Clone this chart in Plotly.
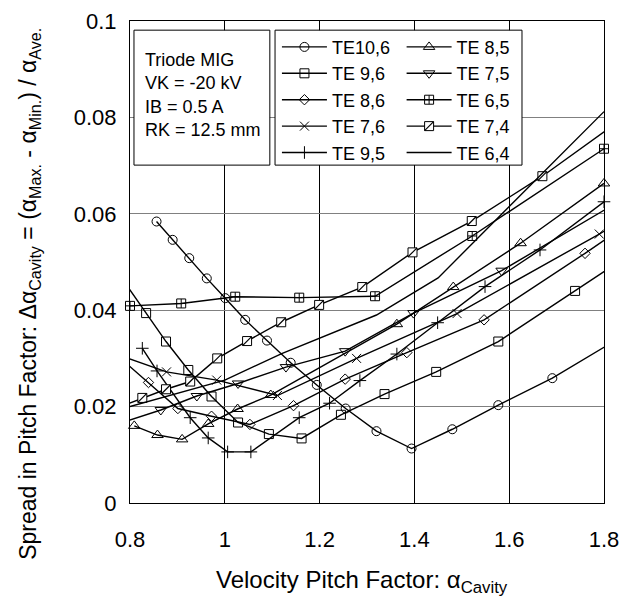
import plotly.graph_objects as go

FONT = "Liberation Sans, Arial, sans-serif"

# ---- data ----
te106_x = [0.856, 0.890, 0.925, 0.962, 1.001, 1.043, 1.089, 1.139, 1.194, 1.255, 1.320, 1.394, 1.480, 1.577, 1.691, 1.82]
te106_y = [0.0584, 0.0546, 0.0508, 0.0466, 0.0425, 0.0380, 0.0337, 0.0291, 0.0245, 0.0196, 0.0149, 0.0113, 0.0153, 0.0203, 0.0259, 0.0335]

te96_x = [0.78, 0.834, 0.876, 0.923, 0.972, 1.028, 1.093, 1.162, 1.245, 1.337, 1.446, 1.577, 1.739, 1.82]
te96_y = [0.0470, 0.0394, 0.0335, 0.0276, 0.0221, 0.0167, 0.0143, 0.0134, 0.0183, 0.0226, 0.0272, 0.0335, 0.0440, 0.0493]

te86_x = [0.78, 0.839, 0.901, 0.972, 1.053, 1.145, 1.254, 1.384, 1.547, 1.760, 1.82]
te86_y = [0.0300, 0.0250, 0.0196, 0.0180, 0.0163, 0.0202, 0.0257, 0.0312, 0.0380, 0.0518, 0.0558]

te76_x = [0.78, 0.877, 0.983, 1.111, 1.278, 1.490, 1.790, 1.82]
te76_y = [0.0306, 0.0272, 0.0255, 0.0223, 0.0300, 0.0393, 0.0558, 0.0575]

te95_x = [0.826, 0.857, 0.927, 0.965, 1.006, 1.055, 1.157, 1.221, 1.285, 1.363, 1.449, 1.549, 1.665, 1.800]
te95_y = [0.0321, 0.0274, 0.0177, 0.0135, 0.0106, 0.0106, 0.0177, 0.0207, 0.0254, 0.0309, 0.0374, 0.0449, 0.0525, 0.0625]

te85_x = [0.809, 0.858, 0.910, 0.965, 1.027, 1.097, 1.363, 1.482, 1.624, 1.800]
te85_y = [0.0160, 0.0141, 0.0132, 0.0164, 0.0195, 0.0224, 0.0371, 0.0448, 0.0539, 0.0663]

te75_x = [0.78, 0.865, 0.941, 1.028, 1.129, 1.254, 1.398, 1.584, 1.82]
te75_y = [0.0166, 0.0193, 0.0222, 0.0248, 0.0282, 0.0315, 0.0394, 0.0482, 0.0619]

te65_x = [0.800, 0.908, 1.022, 1.157, 1.317, 1.522, 1.800]
te65_y = [0.0409, 0.0414, 0.0428, 0.0426, 0.0429, 0.0554, 0.0735]

te74_x = [0.78, 0.826, 0.876, 0.927, 0.984, 1.047, 1.119, 1.199, 1.290, 1.396, 1.521, 1.670, 1.82]
te74_y = [0.0200, 0.0218, 0.0236, 0.0252, 0.0300, 0.0336, 0.0375, 0.0411, 0.0448, 0.0520, 0.0585, 0.0678, 0.0784]

te64_x = [0.8, 1.0, 1.12, 1.32, 1.45, 1.8]
te64_y = [0.0200, 0.0255, 0.0310, 0.0390, 0.0467, 0.0812]

x_ticks = [0.8, 1.0, 1.2, 1.4, 1.6, 1.8]
x_labels = ["0.8", "1", "1.2", "1.4", "1.6", "1.8"]
y_ticks = [0, 0.02, 0.04, 0.06, 0.08, 0.1]
y_labels = ["0", "0.02", "0.04", "0.06", "0.08", "0.1"]

info_lines = ["Triode MIG", "VK = -20 kV", "IB = 0.5 A", "RK = 12.5 mm"]
x_title = "Velocity Pitch Factor: α<sub>Cavity</sub>"
y_title = ("Spread in Pitch Factor: Δα<sub>Cavity</sub> = (α<sub>Max.</sub> - "
           "α<sub>Min.</sub>) / α<sub>Ave.</sub>")

# ---- figure ----
fig = go.Figure()


def add(name, xs, ys, symbol, legend, size=9, clip=True, fill="black"):
    fig.add_trace(go.Scatter(
        x=xs, y=ys, name=name, legend=legend,
        mode="lines+markers" if symbol else "lines",
        line=dict(color="black", width=1.4),
        marker=dict(symbol=symbol or "circle", size=size, color=fill,
                    line=dict(color="black", width=1)),
        cliponaxis=clip,
    ))


add("TE10,6", te106_x, te106_y, "circle-open", "legend")
add("TE 9,6", te96_x, te96_y, "square-open", "legend")
add("TE 8,6", te86_x, te86_y, "diamond-open", "legend", size=8)
add("TE 7,6", te76_x, te76_y, "x-thin-open", "legend", size=9)
add("TE 9,5", te95_x, te95_y, "cross-thin-open", "legend", size=9, clip=False)
add("TE 8,5", te85_x, te85_y, "triangle-up-open", "legend2", size=10, clip=False)
add("TE 7,5", te75_x, te75_y, "triangle-down-open", "legend2", size=10)
add("TE 6,5", te65_x, te65_y, "square-cross-open", "legend2", clip=False)
add("TE 7,4", te74_x, te74_y, "square", "legend2", fill="white")
add("TE 6,4", te64_x, te64_y, None, "legend2")

# slash inside the TE 7,4 squares (plot + a matching overlay in the legend)
fig.add_trace(go.Scatter(
    x=te74_x, y=te74_y, mode="markers", name=" ", legend="legend3", hoverinfo="skip",
    marker=dict(symbol="line-ne-open", size=9, color="black", line=dict(color="black", width=1.2)),
))

# boxes for the info text and the legend
fig.add_shape(type="rect", xref="paper", yref="paper", x0=0.0084, x1=0.295, y0=0.701, y1=0.981,
              line=dict(color="black", width=1), fillcolor="white", layer="above")
fig.add_shape(type="rect", xref="paper", yref="paper", x0=0.306, x1=0.827, y0=0.701, y1=0.981,
              line=dict(color="black", width=1), fillcolor="white", layer="above")

fig.add_annotation(xref="paper", yref="paper", x=0.027, y=0.945, xanchor="left", yanchor="top",
                   text="<br>".join(info_lines), showarrow=False, align="left",
                   font=dict(family=FONT, size=18, color="black"))

# axis titles
fig.add_annotation(xref="paper", yref="paper", x=0.49, y=-0.126, xanchor="center", yanchor="top",
                   text=x_title, showarrow=False, font=dict(family=FONT, size=24, color="black"))
fig.add_annotation(xref="paper", yref="paper", x=-0.211, y=0.434, xanchor="center", yanchor="middle",
                   text=y_title, showarrow=False, textangle=-90,
                   font=dict(family=FONT, size=23, color="black"))

legend_common = dict(font=dict(family=FONT, size=18, color="black"), bgcolor="rgba(0,0,0,0)",
                     borderwidth=0, xanchor="left", yanchor="top", itemwidth=45,
                     tracegroupgap=0, traceorder="normal")
LEG_Y = 0.984
ROW = 26.4 / 482.0
fig.update_layout(
    legend=dict(x=0.31, y=LEG_Y, **legend_common),
    legend2=dict(x=0.573, y=LEG_Y, **legend_common),
    legend3=dict(x=0.573, y=LEG_Y - 3 * ROW, **legend_common),
)

fig.update_xaxes(range=[0.8, 1.8], tickvals=x_ticks, ticktext=x_labels,
                 showgrid=True, gridcolor="black", gridwidth=1, zeroline=False,
                 showline=True, linecolor="black", linewidth=1, mirror=True, ticks="",
                 tickfont=dict(family=FONT, size=22, color="black"), ticklabelstandoff=17)
fig.update_yaxes(range=[0, 0.1], tickvals=y_ticks, ticktext=y_labels,
                 showgrid=True, gridcolor="#808080", gridwidth=1.3, zeroline=False,
                 showline=True, linecolor="black", linewidth=1, mirror=True, ticks="",
                 tickfont=dict(family=FONT, size=22, color="black"), ticklabelstandoff=8)

fig.update_layout(
    width=629, height=598,
    margin=dict(l=130, r=25, t=21, b=95, autoexpand=False),
    plot_bgcolor="white", paper_bgcolor="white",
    showlegend=True,
)

fig.write_html("out.html", config={"displayModeBar": False},
               post_script="document.body.style.margin='0';document.body.style.overflow='hidden';")
